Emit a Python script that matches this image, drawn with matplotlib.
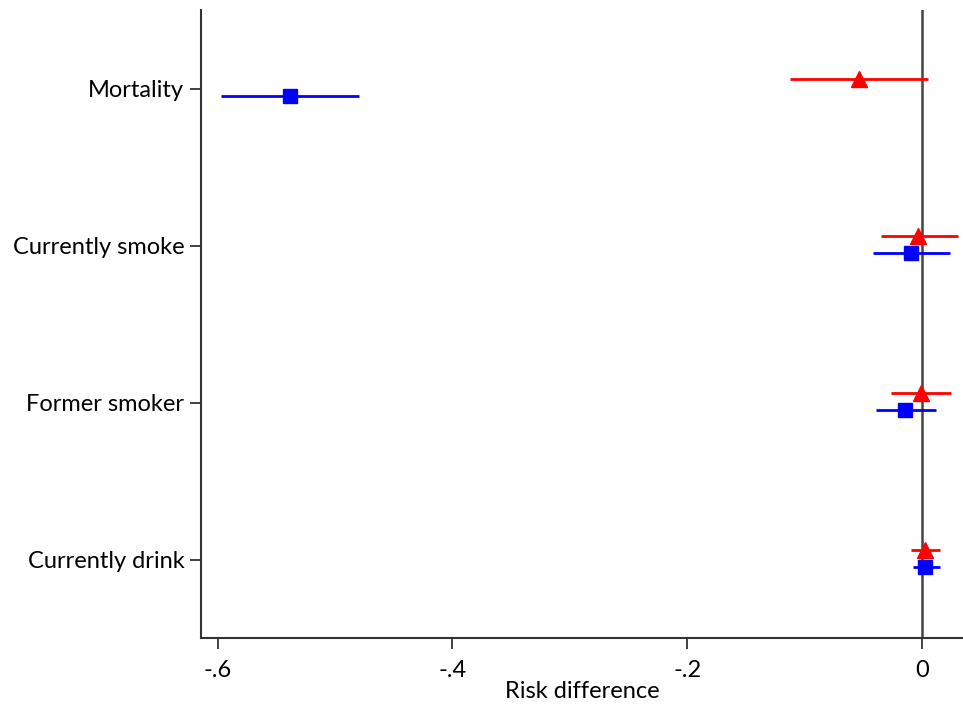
import matplotlib.pyplot as plt
import numpy as np

plt.rcParams['font.family'] = ['Lato', 'DejaVu Sans']

categories = ['Mortality', 'Currently smoke', 'Former smoker', 'Currently drink']

# red triangles
red_est = [-0.054, -0.003, -0.001, 0.003]
red_lo = [-0.112, -0.035, -0.026, -0.009]
red_hi = [0.005, 0.031, 0.025, 0.015]

# blue squares
blue_est = [-0.538, -0.009, -0.014, 0.003]
blue_lo = [-0.597, -0.042, -0.039, -0.008]
blue_hi = [-0.480, 0.024, 0.012, 0.015]

xticks = [-0.6, -0.4, -0.2, 0]
xticklabels = ['-.6', '-.4', '-.2', '0']

pos = np.arange(1, len(categories) + 1)

fig = plt.figure(figsize=(9.63, 7.06), dpi=100)
ax = fig.add_axes([0.2087, 0.0963, 0.7913, 0.8895])

ax.axvline(0, color='#444444', lw=1.8, zorder=1)

ax.hlines(pos - 0.06, red_lo, red_hi, color='red', lw=2, zorder=2)
ax.plot(red_est, pos - 0.06, '^', color='red', markersize=11, zorder=3)

ax.hlines(pos + 0.045, blue_lo, blue_hi, color='blue', lw=2, zorder=2)
ax.plot(blue_est, pos + 0.045, 's', color='blue', markersize=10, zorder=3)

ax.set_xlim(-0.6142, 0.035)
ax.set_ylim(4.5, 0.5)
ax.set_yticks(pos)
ax.set_yticklabels(categories, fontsize=17)
ax.set_xticks(xticks)
ax.set_xticklabels(xticklabels, fontsize=17)
ax.set_xlabel('Risk difference', fontsize=17, labelpad=0)

for s in ['top', 'right']:
    ax.spines[s].set_visible(False)
for s in ['left', 'bottom']:
    ax.spines[s].set_color('#333333')
    ax.spines[s].set_linewidth(1.5)
ax.tick_params(axis='both', length=8, width=1.3, color='#333333')
ax.tick_params(axis='x', pad=8)
ax.tick_params(axis='y', pad=4)

plt.savefig('out.png', dpi=100)
